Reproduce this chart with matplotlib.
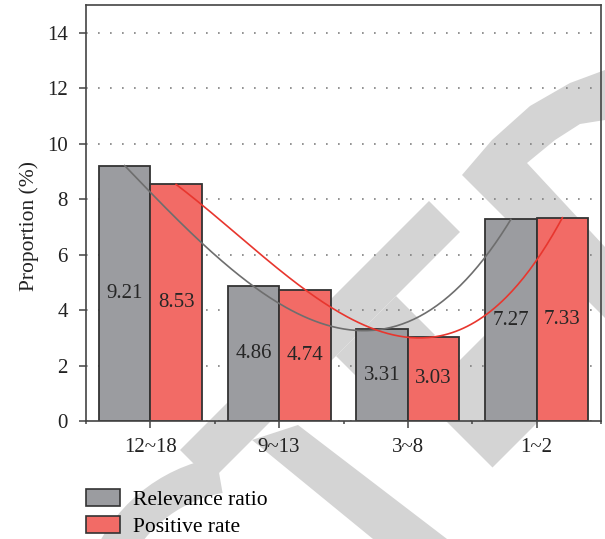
import numpy as np
import matplotlib
matplotlib.use("Agg")
import matplotlib.pyplot as plt
from matplotlib.patches import Polygon, Patch, Wedge
from matplotlib.transforms import IdentityTransform

# datos del grafico
groups = ["12~18", "9~13", "3~8", "1~2"]
relevance = [9.21, 4.86, 3.31, 7.27]
positive = [8.53, 4.74, 3.03, 7.33]
yticks = [0, 2, 4, 6, 8, 10, 12, 14]

grey = "#9b9ca0"
red = "#f26b66"
wm = "#d4d4d4"
serif = ["Liberation Serif", "DejaVu Serif"]
plt.rcParams["font.family"] = serif

W, H = 605, 539
fig = plt.figure(figsize=(W / 100, H / 100), dpi=100)


def diag_box(u0, u1, v0, v1):
    # rectangulo girado 45 grados: u = x + y, v = x - y (pixeles)
    pts = [(u0, v0), (u0, v1), (u1, v1), (u1, v0)]
    return [((u + v) / 2, (u - v) / 2) for u, v in pts]


# marca de agua de fondo (pixeles de la figura, y hacia abajo)
watermark = [
    diag_box(630, 692, -270, 228),
    diag_box(692, 770, -20, 100),
    diag_box(820, 960, 25, 200),
    [(462, 175), (492, 140), (530, 106), (570, 83), (605, 70), (605, 120),
     (580, 124), (555, 140), (527, 163), (605, 247), (605, 318)],
    [(252, 440), (298, 425), (447, 539), (373, 539)],
]
for pts in watermark:
    fig_pts = [(px / W, 1 - py / H) for px, py in pts]
    fig.add_artist(Polygon(fig_pts, closed=True, transform=fig.transFigure,
                           facecolor=wm, edgecolor="none", zorder=0))
# arco inferior izquierdo (pixeles de pantalla, y hacia arriba)
fig.add_artist(Wedge((245, H - 620), 165, 100, 160, width=36, transform=IdentityTransform(),
                     facecolor=wm, edgecolor="none", zorder=0))

ax = fig.add_axes([86 / W, 1 - 421 / H, 515 / W, 416 / H], zorder=1)
ax.set_facecolor("none")

x = np.arange(len(groups))
w = 0.4
ax.bar(x - w / 2, relevance, w, color=grey, edgecolor="#333333", linewidth=1.3, zorder=2)
ax.bar(x + w / 2, positive, w, color=red, edgecolor="#333333", linewidth=1.3, zorder=2)

# etiquetas dentro de las barras
for xi, v in zip(x - w / 2, relevance):
    ax.text(xi, v / 2, f"{v:.2f}", ha="center", va="center", fontsize=15, color="#262626", zorder=4)
for xi, v in zip(x + w / 2, positive):
    ax.text(xi, v / 2, f"{v:.2f}", ha="center", va="center", fontsize=15, color="#262626", zorder=4)

# curvas de tendencia (cubica por los puntos)
for xs, ys, c in [(x - w / 2, relevance, "#6e6e6e"), (x + w / 2, positive, "#e8362e")]:
    coef = np.polyfit(xs, ys, 3)
    xx = np.linspace(xs[0], xs[-1], 200)
    ax.plot(xx, np.polyval(coef, xx), color=c, lw=1.2, zorder=3)

ax.set_xlim(-0.5, 3.5)
ax.set_ylim(0, 15)
ax.set_yticks(yticks)
ax.set_xticks(x)
ax.set_xticklabels(groups)
ax.set_xticks([-0.5, 0.5, 1.5, 2.5, 3.5], minor=True)
ax.yaxis.grid(True, linestyle=(0, (1, 6.2)), color="#808080", linewidth=1.2, zorder=1)
ax.set_axisbelow(True)

for s in ax.spines.values():
    s.set_color("#444444")
    s.set_linewidth(1.2)
ax.tick_params(axis="both", which="major", direction="out", length=5, width=1.1,
               color="#444444", labelsize=15, labelcolor="#222222")
ax.tick_params(axis="x", which="major", pad=7)
ax.tick_params(axis="y", which="major", pad=8)
ax.tick_params(axis="x", which="minor", direction="out", length=2.5, width=1.1, color="#444444")

ax.set_ylabel("Proportion (%)", fontsize=15.5, color="#222222")
ax.yaxis.set_label_coords(-0.091, 0.469)

handles = [Patch(facecolor=grey, edgecolor="#333333", linewidth=1.2, label="Relevance ratio"),
           Patch(facecolor=red, edgecolor="#333333", linewidth=1.2, label="Positive rate")]
fig.legend(handles=handles, loc="upper left", bbox_to_anchor=(86 / W, 1 - 489 / H),
           frameon=False, fontsize=15.5, handlelength=1.6, handleheight=0.85,
           handletextpad=0.6, labelspacing=0.28, borderpad=0, borderaxespad=0)

fig.savefig("out.png", dpi=100)
